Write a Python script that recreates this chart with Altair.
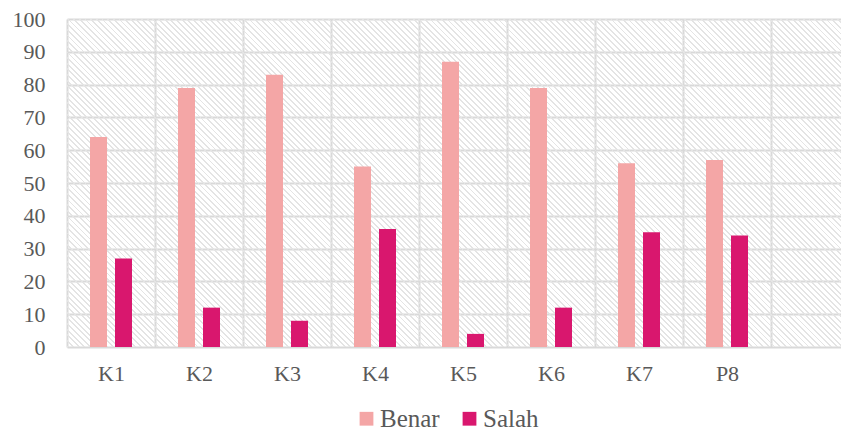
import altair as alt
import pandas as pd

categories = ["K1", "K2", "K3", "K4", "K5", "K6", "K7", "P8"]
benar = [64, 79, 83, 55, 87, 79, 56, 57]
salah = [27, 12, 8, 36, 4, 12, 35, 34]
series = ["Benar", "Salah"]
colors = ["#F4A6A6", "#D9176E"]
y_ticks = list(range(0, 101, 10))
x_domain = categories + [""]

rows = []
for c, b, s in zip(categories, benar, salah):
    rows.append({"cat": c, "series": "Benar", "value": b})
    rows.append({"cat": c, "series": "Salah", "value": s})
df = pd.DataFrame(rows)

W, H = 774, 328
FONT = "Liberation Serif"
TXT = "#595959"
GRID = "#D9D9D9"

# diagonal hatch built as a striped linear gradient (style only)
k = (1 + H / W) / (1 + (H / W) ** 2)
gx2 = k
gy2 = 1 - (H / W) * k
diag = (W + H) / 2 ** 0.5
period = 4.0 / diag
stripe = 1.3 / diag
clear = "rgba(255,255,255,0)"
ink = "#E4E4E4"
stops = []
t = 0.0
while t < 1.0:
    a = min(t, 1.0)
    b = min(t + stripe, 1.0)
    stops.append(alt.GradientStop(offset=a, color=clear))
    stops.append(alt.GradientStop(offset=a, color=ink))
    stops.append(alt.GradientStop(offset=b, color=ink))
    stops.append(alt.GradientStop(offset=b, color=clear))
    t += period
hatch_fill = alt.LinearGradient(gradient="linear", stops=stops,
                                x1=0, y1=1, x2=gx2, y2=gy2)

hatch = alt.Chart(pd.DataFrame({"d": [0]})).mark_rect(fill=hatch_fill).encode(
    x=alt.value(0), x2=alt.value("width"), y=alt.value(0), y2=alt.value("height")
)

bars = alt.Chart(df).mark_bar().encode(
    x=alt.X("cat:N", sort=x_domain,
            scale=alt.Scale(domain=x_domain, paddingInner=0, paddingOuter=0,
                            range=[0, 792]),
            axis=alt.Axis(title=None, labelAngle=0, tickBand="extent", grid=True,
                          gridColor=GRID, gridWidth=2, domain=False, ticks=False,
                          labelPadding=16)),
    xOffset=alt.XOffset("series:N", scale=alt.Scale(domain=series, paddingInner=0.32,
                                                     paddingOuter=0.92)),
    y=alt.Y("value:Q", scale=alt.Scale(domain=[0, 100], nice=False),
            axis=alt.Axis(title=None, values=y_ticks, grid=True, gridColor=GRID,
                          gridWidth=2, domain=False, ticks=False, labelPadding=22)),
    color=alt.Color("series:N", scale=alt.Scale(domain=series, range=colors),
                    legend=alt.Legend(title=None, orient="none", legendX=287,
                                      legendY=387, direction="horizontal",
                                      symbolType="square", symbolSize=190,
                                      symbolStrokeWidth=0, labelFontSize=25,
                                      labelFont=FONT, labelOffset=1,
                                      columnPadding=17, padding=0)),
)

chart = alt.layer(hatch, bars).properties(
    width=W, height=H,
    autosize=alt.AutoSizeParams(type="none"),
    padding={"left": 59, "top": 11, "right": 0, "bottom": 84},
).configure_view(strokeWidth=0).configure_axis(
    labelFont=FONT, labelFontSize=22, labelColor=TXT
).configure_legend(
    labelFont=FONT, labelColor=TXT
)

chart.save("out.html", embed_options={"renderer": "svg", "actions": False})
